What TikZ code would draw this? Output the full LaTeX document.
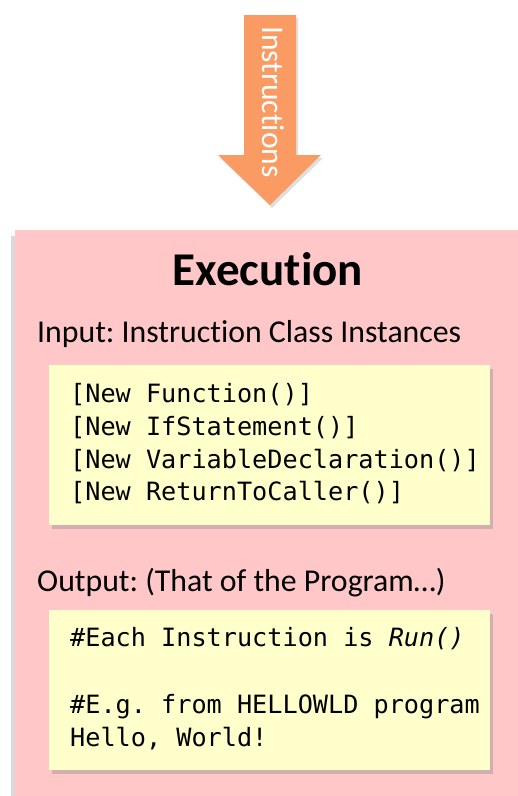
\documentclass[tikz,border=0pt]{standalone}
\usepackage{fontspec}
\setmainfont{Carlito}[Ligatures=NoCommon]
\newfontfamily\codefont{DejaVu Sans Mono}
\usetikzlibrary{shadows}
\definecolor{arroworange}{RGB}{250,155,100}
\definecolor{execpink}{RGB}{255,199,199}
\definecolor{codeyellow}{RGB}{255,255,204}
\frenchspacing

\begin{document}
\begin{tikzpicture}[x=1pt,y=-1pt,
    codebox/.style={fill=codeyellow, drop shadow={shadow xshift=3pt, shadow yshift=-4pt, opacity=0.35}},
    codeline/.style={anchor=base west, inner sep=0pt, font=\codefont\fontsize{25.2}{30}\selectfont},
    boxlabel/.style={anchor=base west, inner sep=0pt, font=\fontsize{31.8}{38}\selectfont}]
    % Frame
    \useasboundingbox (0,0) rectangle (518,796);
    % Instructions arrow
    \fill[arroworange, drop shadow={shadow xshift=2pt, shadow yshift=-3pt, opacity=0.25}]
        (244,15) -- (296,15) -- (296,155) -- (321,155) -- (270,205) -- (218,155) -- (244,155) -- cycle;
    \node[rotate=-90, anchor=base, inner sep=0pt, text=white, font=\fontsize{31.5}{38}\selectfont] (instr) at (262,102) {Instructions};
    % Execution box
    \fill[execpink, drop shadow={shadow xshift=-4pt, shadow yshift=-6pt, opacity=0.3}] (15,230) rectangle (530,810);
    \node[anchor=base, inner sep=0pt, font=\bfseries\fontsize{47}{56}\selectfont] (exec) at (268,285) {Execution};
    % Input
    \node[boxlabel] (input) at (37,342) {Input: Instruction Class Instances};
    \fill[codebox] (49,365) rectangle (490,525);
    \node[codeline] (inA) at (70,402) {[New Function()]};
    \node[codeline] (inB) at (70,435) {[New IfStatement()]};
    \node[codeline] (inC) at (70,468) {[New VariableDeclaration()]};
    \node[codeline] (inD) at (70,500) {[New ReturnToCaller()]};
    % Output
    \node[boxlabel] (output) at (37,591) {Output: (That of the Program…)};
    \fill[codebox] (49,610) rectangle (490,770);
    \node[codeline] (outA) at (70,646) {\#Each Instruction is \textit{Run()}};
    \node[codeline] (outB) at (70,713) {\#E.g. from HELLOWLD program};
    \node[codeline] (outC) at (70,746) {Hello, World!};
\end{tikzpicture}
\end{document}
